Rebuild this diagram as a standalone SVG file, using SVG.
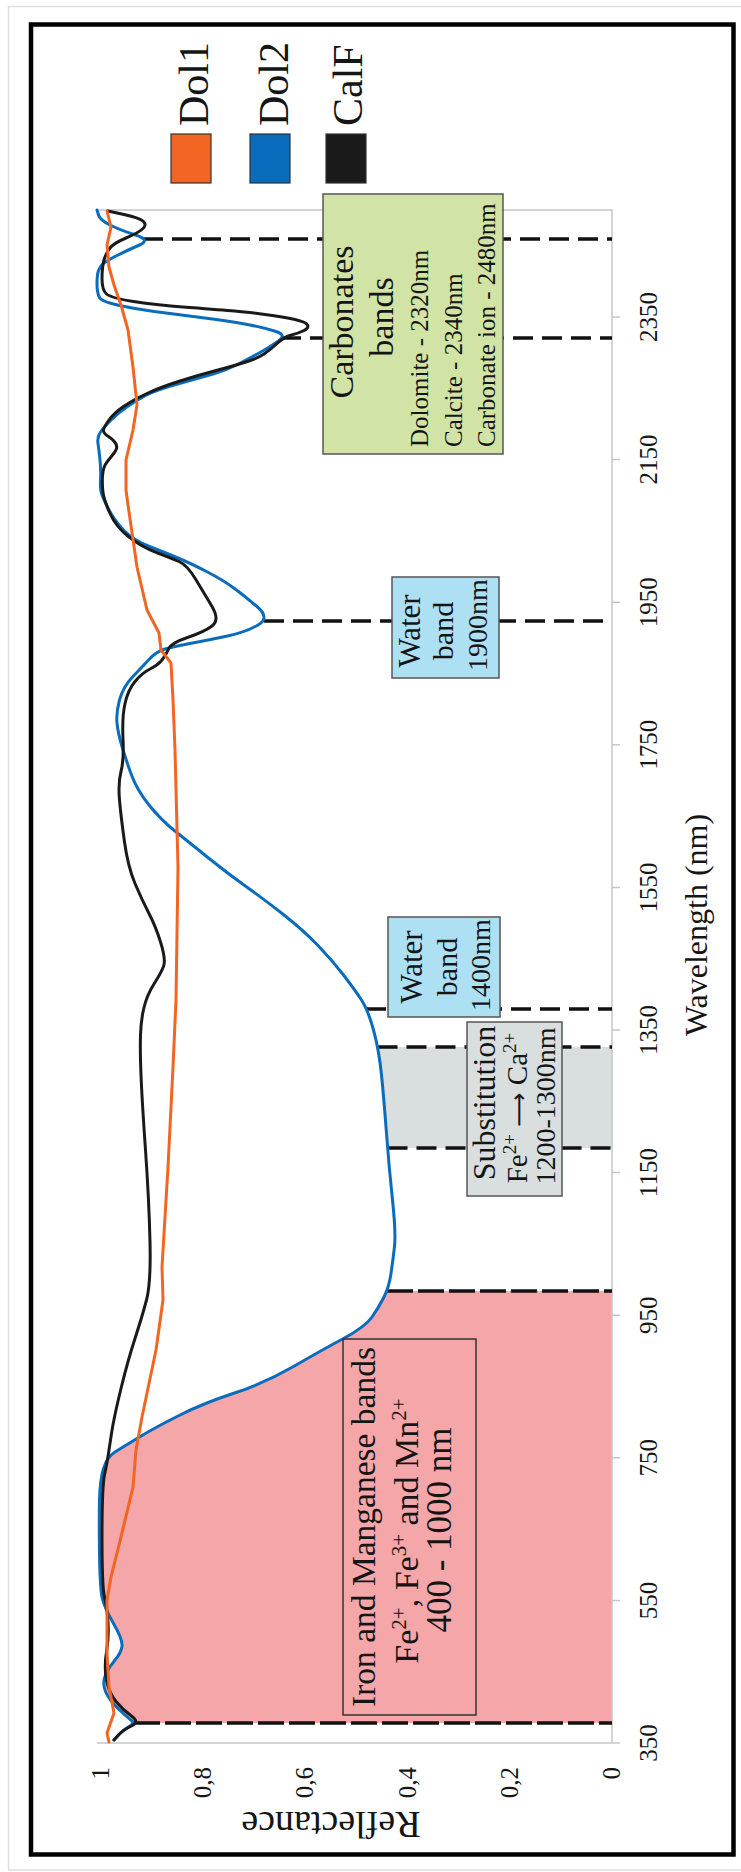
<svg xmlns="http://www.w3.org/2000/svg" width="741" height="1872" viewBox="0 0 741 1872">
<style>
.t{font-family:"Liberation Serif","Times New Roman",serif;fill:#151515}
.dash{fill:none;stroke:#111;stroke-width:3.5;stroke-dasharray:20 9}
.dashd{fill:none;stroke:#111;stroke-width:3.5;stroke-dasharray:26 5}
.curve{fill:none;stroke-width:3;stroke-linejoin:round;stroke-linecap:round}
.axis{stroke:#c6c6c6;stroke-width:1.5;fill:none}
.box{stroke:#555;stroke-width:1.5}
</style>
<rect x="0" y="0" width="741" height="1872" fill="#fff"/>
<rect x="8.5" y="6.5" width="740" height="1863.5" fill="none" stroke="#dedede" stroke-width="1.5"/>
<rect id="frame" x="31" y="24.5" width="702.5" height="1830" fill="#fff" stroke="#000" stroke-width="4.5"/>

<g id="regions">
<path id="iron-region" fill="#f4a6a9" d="M612,1291 L386.8,1291 Q385.5,1294 384,1297 Q379,1307 372,1317 Q365,1327 343.5,1338.5 Q322,1350 293.5,1366.5 Q265,1383 234.5,1393 Q204,1403 180,1415 Q156,1427 139.5,1437 Q123,1447 115,1452 Q107,1457 103.5,1468.5 Q100,1480 99.5,1500 Q99,1520 99.5,1553.5 Q100,1587 102,1597 Q104,1607 113.5,1623.5 Q123,1640 122,1646.5 Q121,1653 115,1660 Q109,1667 105.5,1675 Q102,1683 105.5,1691.5 Q109,1700 118.5,1709 Q128,1718 131.5,1720.5 L133,1723 L612,1723 Z"/>
<path id="subst-region" fill="#d9dfde" d="M612,1047 L377.4,1047 Q380,1060 381.5,1075 Q384,1100 386.5,1133.5 Q387,1140.5 387.6,1148 L612,1148 Z"/>
</g>

<g id="axes">
<path class="axis" d="M97,210 H612 V1743 M97,1743 H620"/>
<path class="axis" d="M612,1600.4 H620 M612,1457.8 H620 M612,1315.2 H620 M612,1172.6 H620 M612,1030 H620 M612,887.4 H620 M612,744.8 H620 M612,602.2 H620 M612,459.6 H620 M612,317 H620"/>
<g class="t" font-size="25" text-anchor="middle">
<text transform="translate(657,1743) rotate(-90)">350</text>
<text transform="translate(657,1600.4) rotate(-90)">550</text>
<text transform="translate(657,1457.8) rotate(-90)">750</text>
<text transform="translate(657,1315.2) rotate(-90)">950</text>
<text transform="translate(657,1172.6) rotate(-90)">1150</text>
<text transform="translate(657,1030) rotate(-90)">1350</text>
<text transform="translate(657,887.4) rotate(-90)">1550</text>
<text transform="translate(657,744.8) rotate(-90)">1750</text>
<text transform="translate(657,602.2) rotate(-90)">1950</text>
<text transform="translate(657,459.6) rotate(-90)">2150</text>
<text transform="translate(657,317) rotate(-90)">2350</text>
</g>
<g class="t" font-size="25" text-anchor="end">
<text transform="translate(620,1767) rotate(-90)">0</text>
<text transform="translate(518,1767) rotate(-90)">0,2</text>
<text transform="translate(416,1767) rotate(-90)">0,4</text>
<text transform="translate(313,1767) rotate(-90)">0,6</text>
<text transform="translate(211,1767) rotate(-90)">0,8</text>
<text transform="translate(108.5,1767) rotate(-90)">1</text>
</g>
<text class="t" font-size="38" text-anchor="middle" transform="translate(331,1812) rotate(180)">Reflectance</text>
<text class="t" font-size="32" text-anchor="middle" transform="translate(707,925) rotate(-90)">Wavelength (nm)</text>
</g>

<g id="connectors">
<line class="dash" x1="143" y1="239" x2="612" y2="239"/>
<line class="dash" x1="281" y1="338" x2="612" y2="338"/>
<line class="dash" x1="264" y1="621" x2="612" y2="621"/>
<line class="dash" x1="366" y1="1009" x2="612" y2="1009"/>
<line class="dash" x1="377.5" y1="1047" x2="612" y2="1047"/>
<line class="dash" x1="387.5" y1="1148" x2="612" y2="1148"/>
<line class="dashd" x1="387" y1="1291" x2="612" y2="1291"/>
<line class="dashd" x1="134" y1="1723" x2="612" y2="1723"/>
</g>

<g id="curves">
<path id="dol2" class="curve" stroke="#0a6cbd" d="M97,210 L98.5,215 Q100,220 110,225 Q120,230 135.5,235 Q151,240 139.5,245 Q128,250 118,255 Q108,260 104,263 Q100,266 98.5,270.5 Q97,275 97,284 Q97,293 99.5,297.5 Q102,302 122,306 Q142,310 166,313 Q190,316 212.5,319 Q235,322 250,325 Q265,328 276,331.5 Q287,335 278.5,341 Q270,347 260,352.5 Q250,358 238.5,364 Q227,370 213,374 Q199,378 177.5,384 Q156,390 146.5,395 Q137,400 127.5,406.5 Q118,413 111,420 Q104,427 100.5,432 Q97,437 98,443.5 Q99,450 100,460 Q101,470 100.5,480 Q100,490 102,495 Q104,500 109,510 Q114,520 123.5,530 Q133,540 149.5,546.5 Q166,553 178,558 Q190,563 206.5,571.5 Q223,580 234.5,588.5 Q246,597 258,607.5 Q270,618 258,625 Q246,632 227.5,636 Q209,640 190,643.5 Q171,647 163.5,649.5 Q156,652 149,659.5 Q142,667 132.5,677 Q123,687 119.5,700 Q116,713 117,723 Q118,733 122,746.5 Q126,760 131.5,775 Q137,790 149,805 Q161,820 175.5,831.5 Q190,843 208.5,858 Q227,873 246,886.5 Q265,900 284,915 Q303,930 317.5,945 Q332,960 343.5,975 Q355,990 361.5,1000 Q368,1010 373.5,1030 Q379,1050 381.5,1075 Q384,1100 386.5,1133.5 Q389,1167 392.5,1200 Q396,1233 394.5,1246.5 Q393,1260 391,1273.5 Q389,1287 384,1297 Q379,1307 372,1317 Q365,1327 343.5,1338.5 Q322,1350 293.5,1366.5 Q265,1383 234.5,1393 Q204,1403 180,1415 Q156,1427 139.5,1437 Q123,1447 115,1452 Q107,1457 103.5,1468.5 Q100,1480 99.5,1500 Q99,1520 99.5,1553.5 Q100,1587 102,1597 Q104,1607 113.5,1623.5 Q123,1640 122,1646.5 Q121,1653 115,1660 Q109,1667 105.5,1675 Q102,1683 105.5,1691.5 Q109,1700 118.5,1709 Q128,1718 131.5,1720.5 Q135,1723 129,1726.5 Q123,1730 118.5,1735 L114,1740"/>
<path id="calf" class="curve" stroke="#1a1a1a" stroke-width="3.5" d="M108,211 L124,214.5 Q140,218 143.5,221.5 Q147,225 142.5,229 Q138,233 126,238 Q114,243 110,248 Q106,253 104,260 Q102,267 102,278.5 Q102,290 106.5,294 Q111,298 133.5,301.5 Q156,305 189.5,307.5 Q223,310 234.5,311 Q246,312 265,314.5 Q284,317 295,319.5 Q306,322 307.5,325 Q309,328 304,330.5 Q299,333 291.5,335 Q284,337 277,343.5 Q270,350 264,354 Q258,358 247.5,361.5 Q237,365 218,370 Q199,375 180,381 Q161,387 147,393.5 Q133,400 123.5,406.5 Q114,413 109,420 Q104,427 103.5,430 Q103,433 108.5,436.5 Q114,440 116,444 Q118,448 114.5,452.5 Q111,457 107,462 Q103,467 102.5,476 Q102,485 103,492.5 Q104,500 110,513.5 Q116,527 129,537 Q142,547 156.5,552.5 Q171,558 179,561.5 Q187,565 195.5,579 Q204,593 212,606.5 Q220,620 212,626 Q204,632 187.5,637.5 Q171,643 168.5,649 Q166,655 162,660 Q158,665 150,669 Q142,673 135,681.5 Q128,690 125,703.5 Q122,717 123,738.5 Q124,760 121,771.5 Q118,783 119.5,800 Q121,817 124.5,842 Q128,867 135,883.5 Q142,900 149,913.5 Q156,927 161,943.5 Q166,960 163.5,966.5 Q161,973 154,984 Q147,995 144,1007.5 Q141,1020 140.5,1035 Q140,1050 141,1075 Q142,1100 145.5,1150 Q149,1200 150,1241.5 Q151,1283 146.5,1300 Q142,1317 135,1338.5 Q128,1360 121,1388.5 Q114,1417 111.5,1433.5 Q109,1450 108,1456.5 Q107,1463 104.5,1475 Q102,1487 102,1537 Q102,1587 104.5,1597 Q107,1607 108,1622 Q109,1637 106.5,1652 Q104,1667 106.5,1680 Q109,1693 116,1701.5 Q123,1710 131.5,1716 Q140,1722 131.5,1726 Q123,1730 118.5,1735 L114,1740"/>
<polyline id="dol1" class="curve" stroke="#f26522" points="107,211 111,227 107,245 109,267 114,285 121,305 128,330 133,367 137,405 133,430 126,460 126,490 128,505 137,567 147,610 159,633 161,650 171,663 173,700 175,750 178,867 176,1000 173,1067 168,1167 162,1267 163,1300 156,1350 142,1417 136,1450 133,1487 121,1537 111,1577 107,1600 107,1653 109,1687 114,1713 107,1733 109,1742"/>
</g>

<g id="carbonates-box">
<rect class="box" x="323" y="194" width="180" height="260" fill="#d1e4a6"/>
<g class="t">
<text font-size="34" text-anchor="middle" transform="translate(353,322) rotate(-90)">Carbonates</text>
<text font-size="34" text-anchor="middle" transform="translate(393,317) rotate(-90)">bands</text>
<text font-size="25" transform="translate(428,447) rotate(-90)">Dolomite - 2320nm</text>
<text font-size="25" transform="translate(462,447) rotate(-90)">Calcite - 2340nm</text>
<text font-size="25" transform="translate(495,447) rotate(-90)">Carbonate ion - 2480nm</text>
</g>
</g>

<g id="water1900-box">
<rect class="box" x="392" y="577" width="107" height="101" fill="#aee0f4"/>
<g class="t" text-anchor="middle">
<text font-size="31" transform="translate(420,631) rotate(-90)">Water</text>
<text font-size="30" transform="translate(453,631) rotate(-90)">band</text>
<text font-size="28" transform="translate(487,625) rotate(-90)">1900nm</text>
</g>
</g>

<g id="water1400-box">
<rect class="box" x="388" y="917" width="112" height="100" fill="#aee0f4"/>
<g class="t" text-anchor="middle">
<text font-size="31" transform="translate(422,967) rotate(-90)">Water</text>
<text font-size="30" transform="translate(457,967) rotate(-90)">band</text>
<text font-size="28" transform="translate(490,965) rotate(-90)">1400nm</text>
</g>
</g>

<g id="substitution-box">
<rect class="box" x="467" y="1022" width="95" height="174" fill="#d9dfde"/>
<g class="t" text-anchor="middle">
<text font-size="32" transform="translate(495,1103) rotate(-90)">Substitution</text>
<text font-size="29" transform="translate(527,1108) rotate(-90)">Fe<tspan font-size="19" dy="-11">2+</tspan><tspan dy="11"> </tspan><tspan font-family="'DejaVu Sans',sans-serif" font-size="24">⟶</tspan><tspan> Ca</tspan><tspan font-size="19" dy="-11">2+</tspan></text>
<text font-size="28" transform="translate(555,1106) rotate(-90)">1200-1300nm</text>
</g>
</g>

<g id="iron-box">
<rect x="343" y="1339" width="133" height="376" fill="none" stroke="#333" stroke-width="1.5"/>
<g class="t" text-anchor="middle">
<text font-size="33.5" transform="translate(375,1527) rotate(-90)">Iron and Manganese bands</text>
<text font-size="34" transform="translate(418,1531) rotate(-90)">Fe<tspan font-size="21" dy="-12">2+</tspan><tspan dy="12">, Fe</tspan><tspan font-size="21" dy="-12">3+</tspan><tspan dy="12"> and Mn</tspan><tspan font-size="21" dy="-12">2+</tspan></text>
<text font-size="35" transform="translate(451,1530) rotate(-90)">400 - 1000 nm</text>
</g>
</g>

<g id="legend">
<g id="legend-dol1">
<rect x="171" y="134" width="40" height="49" fill="#f26522" stroke="#333" stroke-width="1.2"/>
<text class="t" font-size="42" transform="translate(208,126) rotate(-90)">Dol1</text>
</g>
<g id="legend-dol2">
<rect x="250" y="134" width="40" height="49" fill="#0a6cbd" stroke="#333" stroke-width="1.2"/>
<text class="t" font-size="42" transform="translate(288,126) rotate(-90)">Dol2</text>
</g>
<g id="legend-calf">
<rect x="326" y="134" width="40" height="49" fill="#1a1a1a" stroke="#333" stroke-width="1.2"/>
<text class="t" font-size="42" transform="translate(362,126) rotate(-90)">CalF</text>
</g>
</g>
</svg>
